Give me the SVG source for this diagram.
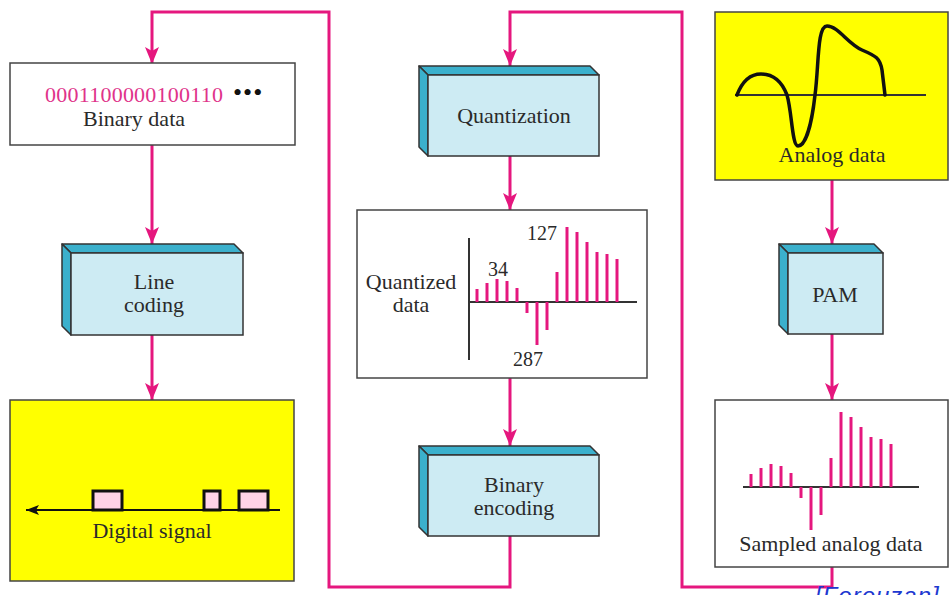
<svg xmlns="http://www.w3.org/2000/svg" width="952" height="595" viewBox="0 0 952 595">
<defs>
<marker id="ah" markerWidth="18" markerHeight="14" viewBox="0 -7 18 14" refX="17" refY="0" orient="auto" markerUnits="userSpaceOnUse">
<path d="M0,-7 L17,0 L0,7 L4,0 z" fill="#E5177E"/>
</marker>
<marker id="bh" markerWidth="14" markerHeight="10" viewBox="0 -5 14 10" refX="13" refY="0" orient="auto" markerUnits="userSpaceOnUse">
<path d="M0,-5 L13,0 L0,5 L3,0 z" fill="#111"/>
</marker>
</defs>
<style>
.t{font-family:"Liberation Serif","Times New Roman",serif;font-size:22px;fill:#2a2a2a;text-anchor:middle}
.n{font-family:"Liberation Serif","Times New Roman",serif;font-size:20px;fill:#2a2a2a;text-anchor:middle}
.box{fill:#fff;stroke:#444;stroke-width:1.5}
.ybox{fill:#FFFF00;stroke:#444;stroke-width:1.5}
.front{fill:#CDEBF3;stroke:#333;stroke-width:1.5}
.side{fill:#3BB0CC;stroke:#333;stroke-width:1.5;stroke-linejoin:round}
.con{fill:none;stroke:#E5177E;stroke-width:3}
.bar{stroke:#E5177E;stroke-width:3}
.ax{stroke:#333;stroke-width:2}
.pulse{fill:#FFD3E6;stroke:#111;stroke-width:3}
</style>
<rect width="952" height="595" fill="#fff"/>

<g id="connectors">
<polyline class="con" points="510,536 510,587 329,587 329,12 152,12 152,64" marker-end="url(#ah)"/>
<polyline class="con" points="832,567 832,587 682,587 682,12 510,12 510,66" marker-end="url(#ah)"/>
<line class="con" x1="152" y1="145" x2="152" y2="244" marker-end="url(#ah)"/>
<line class="con" x1="152" y1="335" x2="152" y2="400" marker-end="url(#ah)"/>
<line class="con" x1="510" y1="156" x2="510" y2="210" marker-end="url(#ah)"/>
<line class="con" x1="510" y1="378" x2="510" y2="446" marker-end="url(#ah)"/>
<line class="con" x1="832" y1="180" x2="832" y2="244" marker-end="url(#ah)"/>
<line class="con" x1="832" y1="334" x2="832" y2="400" marker-end="url(#ah)"/>
</g>

<g id="binary-data">
<rect class="box" x="10" y="63" width="285" height="82"/>
<text x="45" y="102" font-family="Liberation Serif, serif" font-size="22" fill="#E0338A" textLength="178">0001100000100110</text>
<text x="233" y="101" font-family="Liberation Serif, serif" font-size="26" fill="#111" letter-spacing="1">•••</text>
<text class="t" x="134" y="126">Binary data</text>
</g>

<g id="line-coding">
<polygon class="side" points="62,244 234,244 243,253 71,253"/>
<polygon class="side" points="62,244 71,253 71,335 62,326"/>
<rect class="front" x="71" y="253" width="172" height="82"/>
<text class="t" x="154" y="289">Line</text>
<text class="t" x="154" y="312">coding</text>
</g>

<g id="digital-signal">
<rect class="ybox" x="10" y="400" width="284" height="181"/>
<line x1="280" y1="510" x2="26" y2="510" stroke="#111" stroke-width="2" marker-end="url(#bh)"/>
<rect class="pulse" x="93" y="491" width="29" height="19"/>
<rect class="pulse" x="204" y="491" width="16" height="19"/>
<rect class="pulse" x="239" y="491" width="29" height="19"/>
<text class="t" x="152" y="538">Digital signal</text>
</g>

<g id="quantization">
<polygon class="side" points="419,66 590,66 599,75 428,75"/>
<polygon class="side" points="419,66 428,75 428,156 419,147"/>
<rect class="front" x="428" y="75" width="171" height="81"/>
<text class="t" x="514" y="123">Quantization</text>
</g>

<g id="quantized-data">
<rect class="box" x="357" y="210" width="290" height="168"/>
<line class="ax" x1="469" y1="238" x2="469" y2="360"/>
<line class="ax" x1="469" y1="302" x2="637" y2="302"/>
<g class="bar">
<line x1="477" y1="302" x2="477" y2="289"/>
<line x1="487" y1="302" x2="487" y2="283"/>
<line x1="497" y1="302" x2="497" y2="279"/>
<line x1="507" y1="302" x2="507" y2="281"/>
<line x1="517" y1="302" x2="517" y2="288"/>
<line x1="527" y1="302" x2="527" y2="313"/>
<line x1="537" y1="302" x2="537" y2="345"/>
<line x1="547" y1="302" x2="547" y2="330"/>
<line x1="557" y1="302" x2="557" y2="272"/>
<line x1="567" y1="302" x2="567" y2="227"/>
<line x1="577" y1="302" x2="577" y2="232"/>
<line x1="587" y1="302" x2="587" y2="242"/>
<line x1="597" y1="302" x2="597" y2="252"/>
<line x1="607" y1="302" x2="607" y2="254"/>
<line x1="617" y1="302" x2="617" y2="259"/>
</g>
<text class="n" x="542" y="240">127</text>
<text class="n" x="498" y="276">34</text>
<text class="n" x="528" y="366">287</text>
<text class="t" x="411" y="289">Quantized</text>
<text class="t" x="411" y="312">data</text>
</g>

<g id="binary-encoding">
<polygon class="side" points="419,446 590,446 599,455 428,455"/>
<polygon class="side" points="419,446 428,455 428,536 419,527"/>
<rect class="front" x="428" y="455" width="171" height="81"/>
<text class="t" x="514" y="492">Binary</text>
<text class="t" x="514" y="515">encoding</text>
</g>

<g id="analog-data">
<rect class="ybox" x="715" y="12" width="233" height="168"/>
<line x1="735" y1="95" x2="926" y2="95" stroke="#333" stroke-width="2"/>
<path d="M737,95 C742,82 750,74 761,74 C773,74 782,82 787,95 C792,112 792,146 798,146 C806,146 812,122 815,95 C819,65 817,26 827,26 C838,26 848,44 862,50 C876,56 880,58 882,70 L885,95" fill="none" stroke="#111" stroke-width="3.5" stroke-linejoin="round" stroke-linecap="round"/>
<text class="t" x="832" y="162">Analog data</text>
</g>

<g id="pam">
<polygon class="side" points="779,244 874,244 883,253 788,253"/>
<polygon class="side" points="779,244 788,253 788,334 779,325"/>
<rect class="front" x="788" y="253" width="95" height="81"/>
<text class="t" x="835" y="302">PAM</text>
</g>

<g id="sampled-analog-data">
<rect class="box" x="715" y="400" width="233" height="167"/>
<line class="ax" x1="743" y1="487" x2="919" y2="487"/>
<g class="bar">
<line x1="751" y1="487" x2="751" y2="474"/>
<line x1="761" y1="487" x2="761" y2="468"/>
<line x1="771" y1="487" x2="771" y2="464"/>
<line x1="781" y1="487" x2="781" y2="466"/>
<line x1="791" y1="487" x2="791" y2="473"/>
<line x1="801" y1="487" x2="801" y2="498"/>
<line x1="811" y1="487" x2="811" y2="530"/>
<line x1="821" y1="487" x2="821" y2="515"/>
<line x1="831" y1="487" x2="831" y2="458"/>
<line x1="841" y1="487" x2="841" y2="412"/>
<line x1="851" y1="487" x2="851" y2="417"/>
<line x1="861" y1="487" x2="861" y2="427"/>
<line x1="871" y1="487" x2="871" y2="437"/>
<line x1="881" y1="487" x2="881" y2="439"/>
<line x1="891" y1="487" x2="891" y2="444"/>
</g>
<text class="t" x="831" y="551">Sampled analog data</text>
</g>

<text x="815" y="604" font-family="Liberation Sans, Arial, sans-serif" font-size="24" font-style="italic" fill="#2038D0" letter-spacing="1">[Forouzan]</text>
</svg>
